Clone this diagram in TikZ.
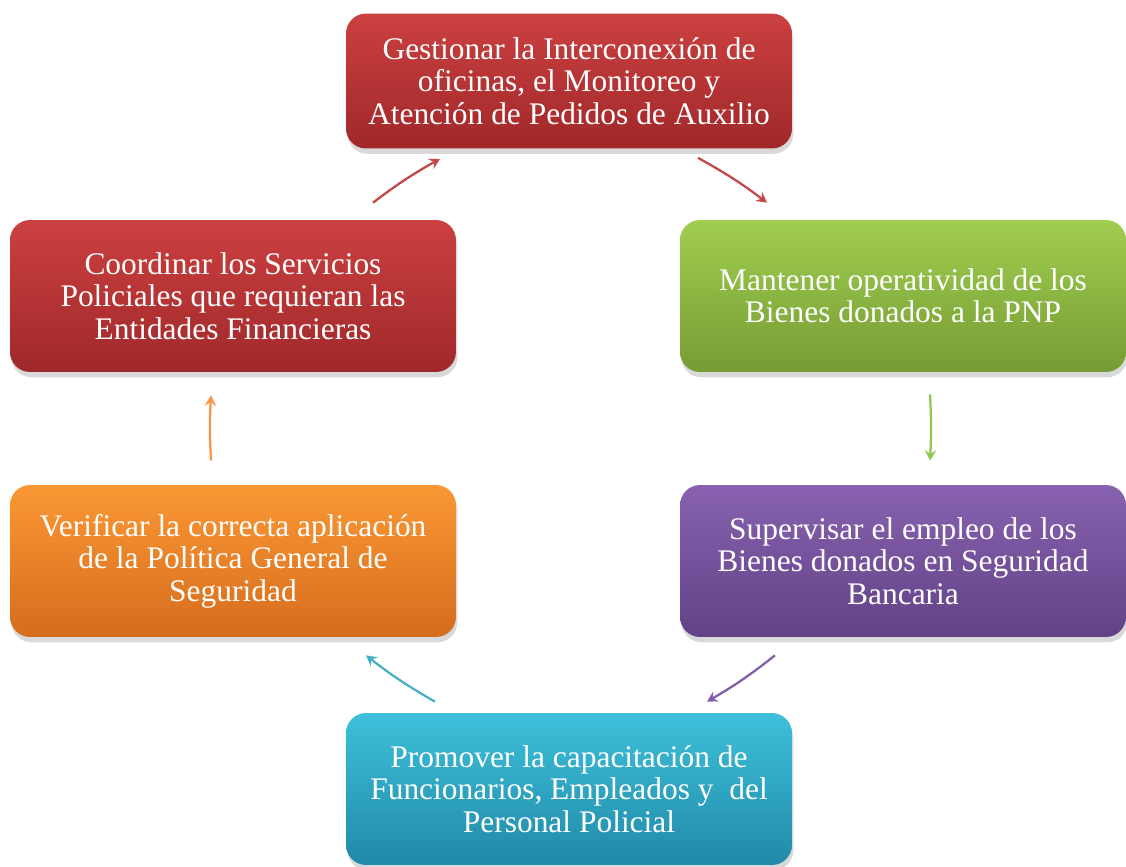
\documentclass[tikz,border=0pt]{standalone}
\usepackage{fontspec}
\setmainfont{Liberation Serif}
\usepackage{tikz}
\usetikzlibrary{arrows.meta, calc, shadows}
\definecolor{redtop}{RGB}{204,64,64}
\definecolor{redbot}{RGB}{160,40,42}
\definecolor{greentop}{RGB}{160,206,80}
\definecolor{greenbot}{RGB}{118,156,52}
\definecolor{purpletop}{RGB}{136,98,176}
\definecolor{purplebot}{RGB}{98,66,134}
\definecolor{tealtop}{RGB}{62,192,218}
\definecolor{tealbot}{RGB}{32,138,168}
\definecolor{orangetop}{RGB}{250,152,52}
\definecolor{orangebot}{RGB}{214,108,30}
\definecolor{redline}{RGB}{196,72,72}
\definecolor{greenline}{RGB}{146,200,80}
\definecolor{purpleline}{RGB}{128,96,170}
\definecolor{tealline}{RGB}{74,176,202}
\definecolor{orangeline}{RGB}{246,150,70}
\tikzset{
  task/.style 2 args={
    rounded corners=0.4cm, top color=#1, bottom color=#2, draw=none,
    drop shadow={shadow xshift=0.8pt, shadow yshift=-3pt, opacity=0.3},
    text=white, align=center, inner sep=0pt,
    minimum width=8.92cm, minimum height=3.04cm,
    font=\fontsize{17.9}{18.4}\selectfont
  },
  cycle arrow/.style={
    line width=1.3pt, -{Stealth[length=6pt, width=6.5pt, inset=2.2pt]}
  }
}

\begin{document}
\begin{tikzpicture}[x=0.02cm, y=-0.02cm]
\useasboundingbox (0,0) rectangle (1126,866);

%top
\node[task={redtop}{redbot}, minimum height=2.7cm] (gest) at (569,81)
  {Gestionar la Interconexión de\\oficinas, el Monitoreo y\\Atención de Pedidos de Auxilio};

%right
\node[task={greentop}{greenbot}] (mant) at (903,296)
  {Mantener operatividad de los\\Bienes donados a la PNP};
\node[task={purpletop}{purplebot}] (superv) at (903,561)
  {Supervisar el empleo de los\\Bienes donados en Seguridad\\Bancaria};

%bottom
\node[task={tealtop}{tealbot}] (prom) at (569,789)
  {Promover la capacitación de\\Funcionarios, Empleados y\ \ del\\Personal Policial};

%left
\node[task={orangetop}{orangebot}] (verif) at (233,561)
  {Verificar la correcta aplicación\\de la Política General de\\Seguridad};
\node[task={redtop}{redbot}] (coord) at (233,296)
  {Coordinar los Servicios\\Policiales que requieran las\\Entidades Financieras};

%arrows
\draw[cycle arrow, redline] ($(coord.north)+(140,-17)$) to[bend left=4] ($(gest.south)+(-129,10)$);
\draw[cycle arrow, redline] ($(gest.south)+(129,9)$) to[bend left=4] ($(mant.north)+(-136,-17)$);
\draw[cycle arrow, greenline] ($(mant.south)+(27,22)$) to[bend left=3] ($(superv.north)+(27,-24)$);
\draw[cycle arrow, purpleline] ($(superv.south)+(-128,18)$) to[bend left=4] ($(prom.north)+(138,-11)$);
\draw[cycle arrow, tealline] ($(prom.north)+(-134,-11)$) to[bend left=4] ($(verif.south)+(133,18)$);
\draw[cycle arrow, orangeline] ($(verif.north)+(-22,-24)$) to[bend left=3] ($(coord.south)+(-22,23)$);

\end{tikzpicture}
\end{document}
